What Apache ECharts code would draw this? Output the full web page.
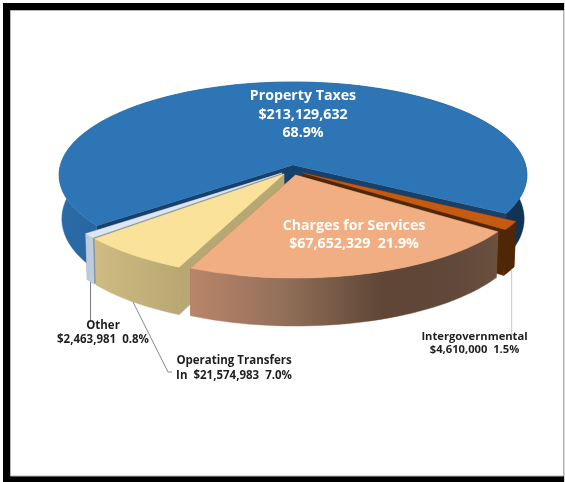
<!DOCTYPE html>
<html>
<head>
<meta charset="utf-8">
<style>html,body{margin:0;padding:0;background:#fff}#chart{width:565px;height:482px}</style>
<script src="https://cdn.jsdelivr.net/npm/echarts@6/dist/echarts.min.js"></script>
</head>
<body>
<div id="chart"></div>
<script>
// Revenue by source, in clockwise order around the pie
const categories = ['Property Taxes', 'Intergovernmental', 'Charges for Services', 'Operating Transfers In', 'Other'];
const revenues = [213129632, 4610000, 67652329, 21574983, 2463981];

// Painter's order, back of the pie first
const drawOrder = [0, 4, 3, 1, 2];

// Projection of the tilted disc; the lower rim narrows towards the left and right extremes
const START_ANGLE = 142, RX = 232.6, RY = 92, PERSPECTIVE = 0.1075, DEPTH = 43, DEPTH_NEAR = 5, FLOOR_NARROWING = 0.012;

// Apex of each exploded slice
const apexes = [[293, 165], [303, 173], [295.5, 175], [284, 174], [282, 173]];

const topColors = ['#2e75b6', '#c55a11', '#f1ae82', '#fae29b', '#dce6f1'];
const wallColors = ['#17406a', '#4f2606', '#8a6448', '#b7a873', '#8792a0'];
const rimStops = [
  [[0, '#2b6ba6'], [0.16, '#25619b'], [0.5, '#1b4a78'], [0.8, '#123658'], [1, '#123352']],
  [[0, '#4f2606'], [1, '#4f2606']],
  [[0, '#b9856a'], [0.3, '#93705a'], [0.62, '#5f4636'], [0.85, '#60483a'], [1, '#6b503e']],
  [[0, '#cfbb83'], [1, '#b9a873']],
  [[0, '#b7c9db'], [1, '#c0d0df']]
];

const total = revenues.reduce((a, b) => a + b, 0);
const spans = revenues.map(v => v / total * 360);
const starts = spans.map((_, i) => START_ANGLE + spans.slice(0, i).reduce((a, b) => a + b, 0));

const money = v => '$' + v.toLocaleString('en-US');
const pct = v => (v / total * 100).toFixed(1) + '%';

// Text blocks per slice: lines, centre x, middle y of each line, font size, colour
const labelBlocks = [
  { lines: [categories[0], money(revenues[0]), pct(revenues[0])], x: 303, y: [96, 114.5, 133], size: 14.2, color: '#ffffff' },
  { lines: ['Intergovernmental', money(revenues[1]) + '  ' + pct(revenues[1])], x: 474.5, y: [337, 350], size: 11.2, color: '#1f1f1f' },
  { lines: [categories[2], money(revenues[2]) + '  ' + pct(revenues[2])], x: 354, y: [226, 244], size: 14.2, color: '#ffffff' },
  { lines: ['Operating Transfers', 'In  ' + money(revenues[3]) + '  ' + pct(revenues[3])], x: 234, y: [361, 376], size: 11.5, color: '#1f1f1f' },
  { lines: [categories[4], money(revenues[4]) + '  ' + pct(revenues[4])], x: 103, y: [326, 340], size: 11.5, color: '#1f1f1f' }
];

// Leader lines run from the slice's lower rim to the text
const leaderAnchor = [null, 0.25, null, 0.5, 0.5];
const leaderEnds = [null, [[0, 340]], null, [[168, 372], [172, 372]], [[0, 322]]];
const leaderColors = [null, '#c8c8c8', null, '#8a8a8a', '#777777'];

function rim(apex, deg, floor) {
  const t = deg * Math.PI / 180, u = Math.cos(t), v = Math.sin(t), w = 1 - PERSPECTIVE * v;
  const drop = floor ? DEPTH + DEPTH_NEAR * v : 0;
  const scale = floor ? 1 - FLOOR_NARROWING * u * u : 1;
  return [apex[0] + scale * RX * u / w, apex[1] + RY * v / w + drop];
}

function arc(apex, from, to, floor) {
  const n = Math.max(2, Math.ceil((to - from) / 2));
  const pts = [];
  for (let i = 0; i <= n; i++) pts.push(rim(apex, from + (to - from) * i / n, floor));
  return pts;
}

function poly(points, fill) {
  return { type: 'polygon', silent: true, shape: { points }, style: { fill, stroke: fill, lineWidth: 0.4 } };
}

function renderSlice(params, api) {
  const i = api.value(0), from = api.value(1), to = from + api.value(2), a = apexes[i];
  const floorApex = [a[0], a[1] + DEPTH];
  const wall = deg => poly([a, rim(a, deg), rim(a, deg, true), floorApex], wallColors[i]);
  const outer = poly(arc(a, from, to).concat(arc(a, from, to, true).reverse()),
    new echarts.graphic.LinearGradient(0, 0, 1, 0, rimStops[i].map(s => ({ offset: s[0], color: s[1] }))));
  const top = poly([a].concat(arc(a, from, to)), topColors[i]);
  return { type: 'group', children: [wall(from), wall(to), outer, top] };
}

function renderLabel(params, api) {
  const i = api.value(0), block = labelBlocks[i], children = [];
  if (leaderEnds[i]) {
    const start = rim(apexes[i], starts[i] + spans[i] * leaderAnchor[i], true);
    const pts = [start].concat(leaderEnds[i].map(p => [p[0] || start[0], p[1]]));
    children.push({ type: 'polyline', silent: true, shape: { points: pts },
      style: { stroke: leaderColors[i], lineWidth: 1, fill: 'none' } });
  }
  block.lines.forEach((line, k) => children.push({
    type: 'text', silent: true, x: block.x, y: block.y[k],
    style: { text: line, fill: block.color, align: 'center', verticalAlign: 'middle',
      font: '700 ' + block.size + 'px "Open Sans", Lato, sans-serif' }
  }));
  return { type: 'group', children };
}

const chart = echarts.init(document.getElementById('chart'), null, { renderer: 'canvas' });
chart.setOption({
  animation: false,
  backgroundColor: '#ffffff',
  graphic: [
    { type: 'rect', z: -2, silent: true, shape: { x: 3, y: 3, width: 562, height: 479 }, style: { fill: '#000000' } },
    { type: 'rect', z: -1, silent: true, shape: { x: 10.5, y: 10.5, width: 553, height: 465.5 },
      style: { fill: '#ffffff', stroke: '#b5b5b5', lineWidth: 1 } },
    { type: 'rect', z: -1, silent: true, shape: { x: 564, y: 3, width: 1, height: 479 }, style: { fill: '#d6d6d6' } }
  ],
  series: [
    { type: 'custom', coordinateSystem: 'none', renderItem: renderSlice, silent: true, z: 2,
      data: drawOrder.map(i => [i, starts[i], spans[i]]) },
    { type: 'custom', coordinateSystem: 'none', renderItem: renderLabel, silent: true, z: 3,
      data: drawOrder.map(i => [i, revenues[i]]) }
  ]
});
</script>
</body>
</html>
